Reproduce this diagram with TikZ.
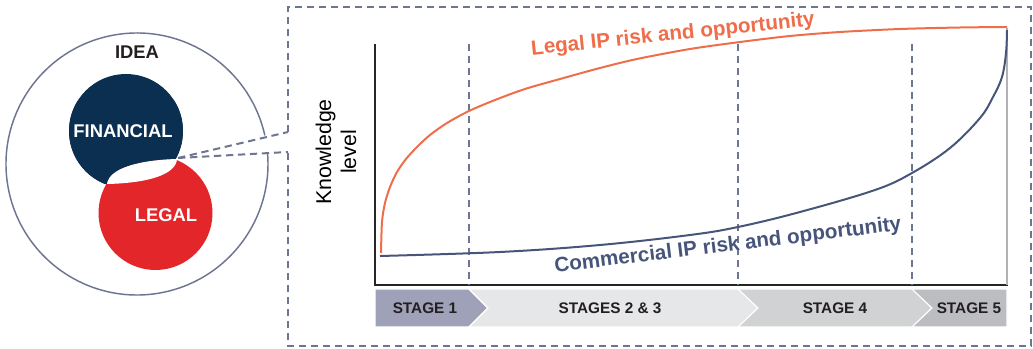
\documentclass[tikz,border=0pt]{standalone}
\usepackage{fontspec}
\setmainfont{Liberation Sans}
\definecolor{navy}{HTML}{0B2F50}
\definecolor{legalred}{HTML}{E2262A}
\definecolor{frame}{HTML}{6E7591}
\definecolor{coral}{HTML}{EE6E4C}
\definecolor{slate}{HTML}{47557A}
\definecolor{stageone}{HTML}{9EA1B8}
\definecolor{stagetwo}{HTML}{E6E7E9}
\definecolor{stagefour}{HTML}{D1D2D4}
\definecolor{stagefive}{HTML}{BCBDC0}
\definecolor{stagetext}{HTML}{231F20}
\begin{document}
\begin{tikzpicture}[x=0.75pt,y=-0.75pt,
    framedash/.style={draw=frame,line width=1.5pt,dash pattern=on 5.5pt off 3.5pt},
    stagebox/.style={draw=white,line width=0.8pt},
    stagelabel/.style={font=\bfseries\fontsize{11.5}{13}\selectfont,text=stagetext},
    circlelabel/.style={font=\bfseries\fontsize{13.8}{16}\selectfont,text=white}]
\useasboundingbox (0,0) rectangle (1033,349);

% Idea
\draw[frame,line width=1.1pt] (137,164) ++(12.6:98.25pt) arc[start angle=12.6,end angle=364.8,radius=98.25pt];
\node[font=\bfseries\fontsize{13.8}{16}\selectfont,text=stagetext] (idea) at (137,52) {IDEA};

% Financial and legal
\fill[navy] (126,131) circle[radius=42.75pt];
\fill[legalred] (155.5,213) circle[radius=42.75pt];
\begin{scope}
  \clip (126,131) circle[radius=42.75pt];
  \fill[navy] (107,184) .. controls (109,168) and (140,160) .. (177,159) -- (230,100) -- (60,100) -- (60,184) -- cycle;
\end{scope}
\fill[white] (107,184) .. controls (109,168) and (140,160) .. (177,159) .. controls (176,174) and (150,183) .. (107,184) -- cycle;
\node[circlelabel] (financial) at (123,131) {FINANCIAL};
\node[circlelabel] (legal) at (166,215) {LEGAL};

% Zoom
\coordinate (tip) at (178,158);
\coordinate (upper) at (288,132);
\coordinate (lower) at (288,152);
\draw[framedash] (tip) -- (upper);
\draw[framedash] (tip) -- (lower);
\draw[framedash] (upper) -- (288,7) -- (1031,7) -- (1031,346) -- (288,346) -- (lower);

% Axes
\draw[black!85,line width=1.5pt] (375,44) -- (375,285) -- (1008,285);
\draw[black!30,line width=1.5pt] (1007,28) -- (1007,285);
\node[rotate=90,align=center,font=\fontsize{16}{18.75}\selectfont] (ylabel) at (336,152) {Knowledge\\level};

% Stages
\foreach \sx in {469,738,912}
  \draw[framedash,line width=1.4pt] (\sx,44) -- (\sx,285);
\draw[stagebox,fill=stageone] (375,289) -- (469,289) -- (488,308) -- (469,327) -- (375,327) -- cycle;
\draw[stagebox,fill=stagetwo] (469,289) -- (738,289) -- (758,308) -- (738,327) -- (469,327) -- (488,308) -- cycle;
\draw[stagebox,fill=stagefour] (738,289) -- (912,289) -- (932,308) -- (912,327) -- (738,327) -- (758,308) -- cycle;
\draw[stagebox,fill=stagefive] (912,289) -- (1007,289) -- (1007,327) -- (912,327) -- (932,308) -- cycle;
\node[stagelabel] (stage1) at (425,308) {STAGE 1};
\node[stagelabel] (stage23) at (610,308) {STAGES 2 \& 3};
\node[stagelabel] (stage4) at (835,308) {STAGE 4};
\node[stagelabel] (stage5) at (969,308) {STAGE 5};

% Curves
\draw[coral,line width=1.5pt] plot[smooth,tension=0.5] coordinates {(381,253) (382,222) (385,203) (390,187) (397,172) (406,159) (417,147) (430,135) (447,123) (469,111) (495,100) (525,89) (560,79) (600,68) (637,59) (690,49) (740,42) (790,36) (840,32) (900,29) (960,27.5) (1007,27)};
\draw[slate,line width=1.5pt] plot[smooth,tension=0.6] coordinates {(380,256) (500,252) (600,245) (690,235) (738,227) (800,212) (875,190) (912,173) (950,148) (980,118) (993,97) (1002,77) (1006,53) (1007,30)};
\node[rotate=6,text=coral,font=\bfseries\fontsize{15.5}{18}\selectfont] (legalip) at (673,35) {Legal IP risk and opportunity};
\node[rotate=7,text=slate,font=\bfseries\fontsize{15.5}{18}\selectfont] (commip) at (728,246) {Commercial IP risk and opportunity};
\end{tikzpicture}
\end{document}
